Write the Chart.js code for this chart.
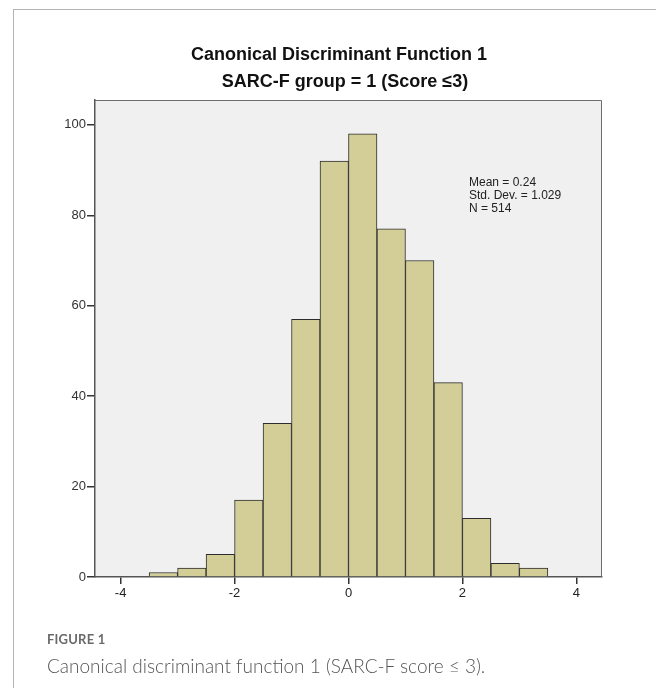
<!DOCTYPE html>
<html>
<head>
<meta charset="utf-8">
<script src="https://cdn.jsdelivr.net/npm/chart.js@4/dist/chart.umd.min.js"></script>
<style>
  html, body { margin:0; padding:0; background:#fff; width:656px; height:688px; overflow:hidden; }
  #frame { position:absolute; left:13px; top:9px; width:700px; height:700px; border-left:1px solid #b4b4b4; border-top:1px solid #b4b4b4; }
  #c { position:absolute; left:0; top:0; }
  .t { position:absolute; font-family:"Liberation Sans", Arial, sans-serif; color:#111; white-space:nowrap; }
  #t1 { font-size:18px; font-weight:bold; left:0; width:678px; text-align:center; top:44px; }
  #t2 { font-size:18px; font-weight:bold; left:0; width:690px; text-align:center; top:71px; }
  #stats { font-size:12px; line-height:13px; left:469px; top:176px; color:#222; }
  #fig { position:absolute; left:47px; top:631px; font-family:Lato, "Open Sans", sans-serif; font-size:13px; font-weight:bold; color:#6a6a6a; letter-spacing:0.2px; }
  #cap { position:absolute; left:47px; top:654px; font-family:Lato, "Open Sans", sans-serif; font-size:19px; font-weight:300; color:#555; white-space:nowrap; }
</style>
</head>
<body>
<div id="frame"></div>
<canvas id="c" width="656" height="688"></canvas>
<div class="t" id="t1">Canonical Discriminant Function 1</div>
<div class="t" id="t2">SARC-F group = 1 (Score ≤3)</div>
<div class="t" id="stats">Mean = 0.24<br>Std. Dev. = 1.029<br>N = 514</div>
<div id="fig">FIGURE 1</div>
<div id="cap">Canonical discriminant function 1 (SARC-F score ≤ 3).</div>
<script>
// ---- data ----
const binCenters = [-3.25, -2.75, -2.25, -1.75, -1.25, -0.75, -0.25, 0.25, 0.75, 1.25, 1.75, 2.25, 2.75, 3.25];
const counts     = [1, 2, 5, 17, 34, 57, 92, 98, 77, 70, 43, 13, 3, 2];
const xTickValues = [-4, -2, 0, 2, 4];
const yTickValues = [0, 20, 40, 60, 80, 100];

const plotBg = {
  id: 'plotBg',
  beforeDraw(chart) {
    const {ctx, chartArea: a} = chart;
    ctx.save();
    ctx.fillStyle = '#f0f0f0';
    ctx.fillRect(a.left, a.top, a.right - a.left, a.bottom - a.top);
    ctx.restore();
  },
  afterDraw(chart) {
    const {ctx, chartArea: a} = chart;
    ctx.save();
    ctx.strokeStyle = '#6e6e6e';
    ctx.lineWidth = 1;
    ctx.beginPath();
    ctx.moveTo(a.left, a.top + 0.5);
    ctx.lineTo(a.right - 0.5, a.top + 0.5);
    ctx.lineTo(a.right - 0.5, a.bottom);
    ctx.stroke();
    ctx.restore();
  }
};

new Chart(document.getElementById('c'), {
  type: 'bar',
  data: {
    datasets: [{
      data: binCenters.map((x, i) => ({x: x, y: counts[i]})),
      backgroundColor: '#d3ce97',
      borderColor: '#2c2c2c',
      borderWidth: 1,
      barPercentage: 1,
      categoryPercentage: 1
    }]
  },
  options: {
    responsive: false,
    animation: false,
    devicePixelRatio: 1,
    layout: { padding: { left: 0, top: 100, right: 54, bottom: 71 } },
    plugins: { legend: { display: false }, tooltip: { enabled: false }, title: { display: false } },
    scales: {
      x: {
        type: 'linear',
        offset: false,
        min: -4.45, max: 4.45,
        afterBuildTicks(s) { s.ticks = xTickValues.map(v => ({value: v})); },
        afterFit(s) { s.height = 40; },
        grid: { display: true, offset: false, drawOnChartArea: false, drawTicks: true, tickLength: 7, color: '#333', lineWidth: 1.5 },
        border: { display: true, color: '#555', width: 1.5 },
        ticks: { padding: 2, color: '#222', font: { family: '"Liberation Sans", Arial, sans-serif', size: 13 }, maxRotation: 0 }
      },
      y: {
        type: 'linear',
        min: 0, max: 105.5,
        afterBuildTicks(s) { s.ticks = yTickValues.map(v => ({value: v})); },
        afterFit(s) { s.width = 95; },
        grid: { display: true, drawOnChartArea: false, drawTicks: true, tickLength: 8, color: '#333', lineWidth: 1.5 },
        border: { display: true, color: '#555', width: 1.5 },
        ticks: { padding: 1, color: '#333', font: { family: '"Liberation Sans", Arial, sans-serif', size: 13 } }
      }
    }
  },
  plugins: [plotBg]
});
</script>
</body>
</html>
